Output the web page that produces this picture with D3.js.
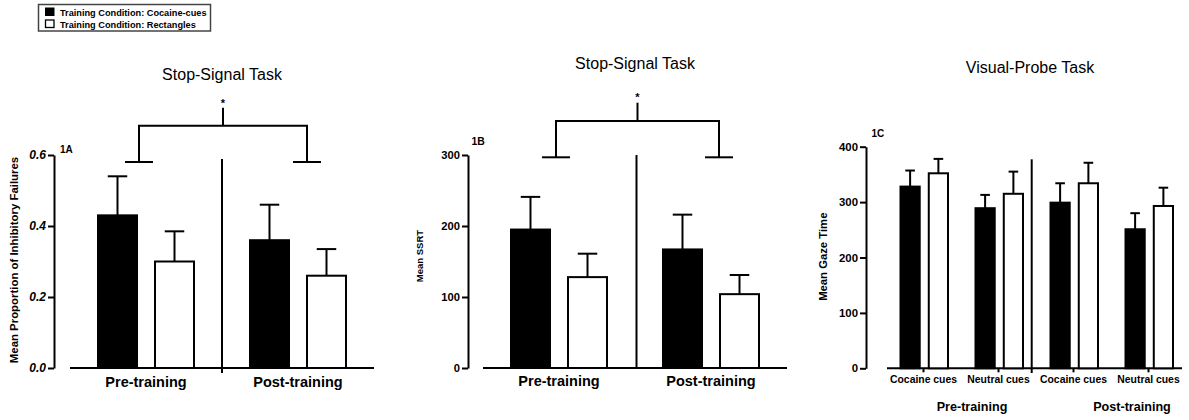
<!DOCTYPE html>
<html><head><meta charset="utf-8">
<script src="https://cdn.jsdelivr.net/npm/d3@7"></script>
<style>
body{margin:0;background:#fff}
svg{display:block}
text{font-family:Arial,"Liberation Sans",sans-serif;fill:#000}
</style>
</head><body>
<svg id="c" width="1189" height="420"></svg>
<script>
// ---------- data ----------
const seriesNames = ["Training Condition: Cocaine-cues", "Training Condition: Rectangles"];
const phases = ["Pre-training", "Post-training"];

// Panel 1A: proportion of inhibitory failures
const failCocaine = [0.43, 0.36];
const failCocaineSem = [0.11, 0.10];
const failRect = [0.30, 0.26];
const failRectSem = [0.085, 0.075];
const failTicks = [0.0, 0.2, 0.4, 0.6];

// Panel 1B: SSRT
const ssrtCocaine = [195, 167];
const ssrtCocaineSem = [46, 49];
const ssrtRect = [128, 104];
const ssrtRectSem = [33, 27];
const ssrtTicks = [0, 100, 200, 300];

// Panel 1C: gaze time
const cueKeys = ["pre-coc", "pre-neu", "post-coc", "post-neu"];
const cueLabels = ["Cocaine cues", "Neutral cues", "Cocaine cues", "Neutral cues"];
const gazeCocaine = [328, 289, 299, 251];
const gazeCocaineSem = [29, 24, 35, 29];
const gazeRect = [352, 315, 334, 293];
const gazeRectSem = [26, 40, 37, 33];
const gazeTicks = [0, 100, 200, 300, 400];

const svg = d3.select("#c");
const LW = 2;

function line(g, x1, y1, x2, y2, w) {
  g.append("line").attr("x1", x1).attr("y1", y1).attr("x2", x2).attr("y2", y2)
    .attr("stroke", "#000").attr("stroke-width", w || LW);
}

function yAxis(g, x, y, ticks, fmt, font, italic) {
  const ax = g.append("g").attr("transform", `translate(${x},0)`)
    .call(d3.axisLeft(y).tickValues(ticks).tickFormat(fmt).tickSize(6).tickSizeOuter(0).tickPadding(2));
  ax.select(".domain").attr("stroke", "#000").attr("stroke-width", LW);
  ax.selectAll(".tick line").attr("stroke", "#000").attr("stroke-width", LW);
  ax.selectAll(".tick text").attr("font-size", font).attr("font-weight", "bold")
    .attr("font-style", italic ? "italic" : "normal").attr("fill", "#000")
    .attr("font-family", 'Arial,"Liberation Sans",sans-serif');
}

function bars(g, xPos, width, y, vals, sems, fill) {
  vals.forEach((v, i) => {
    const x0 = xPos(i);
    g.append("rect").attr("x", x0).attr("y", y(v)).attr("width", width)
      .attr("height", y(0) - y(v)).attr("fill", fill).attr("stroke", "#000").attr("stroke-width", LW);
    const cx = x0 + width / 2;
    line(g, cx, y(v), cx, y(v + sems[i]));
    line(g, cx - width / 4, y(v + sems[i]), cx + width / 4, y(v + sems[i]));
  });
}

function text(g, x, y, s, size, opts) {
  opts = opts || {};
  const t = g.append("text").attr("x", x).attr("y", y).text(s)
    .attr("font-size", size).attr("text-anchor", opts.anchor || "middle")
    .attr("font-weight", opts.bold ? "bold" : "normal");
  if (opts.rotate) t.attr("transform", `rotate(-90,${x},${y})`);
  return t;
}

function bracket(g, xl, xr, yFoot, yTop, yStem, footHalf, starY) {
  const xm = (xl + xr) / 2;
  line(g, xl - footHalf, yFoot, xl + footHalf, yFoot);
  line(g, xr - footHalf, yFoot, xr + footHalf, yFoot);
  line(g, xl, yFoot, xl, yTop);
  line(g, xr, yFoot, xr, yTop);
  line(g, xl - 1, yTop, xr + 1, yTop);
  line(g, xm, yTop, xm, yStem);
  text(g, xm, starY, "*", 11, {bold: true});
}

// ---------- legend ----------
const lg = svg.append("g");
lg.append("rect").attr("x", 38.5).attr("y", 4.5).attr("width", 172).attr("height", 26.5)
  .attr("fill", "#fff").attr("stroke", "#444").attr("stroke-width", 1.5);
lg.append("rect").attr("x", 45).attr("y", 7.5).attr("width", 9.5).attr("height", 8.5).attr("fill", "#000");
lg.append("rect").attr("x", 45.5).attr("y", 20).attr("width", 8.5).attr("height", 7.5)
  .attr("fill", "#fff").attr("stroke", "#000").attr("stroke-width", 1.3);
text(lg, 60, 16, seriesNames[0], 9.2, {bold: true, anchor: "start"});
text(lg, 60, 27.5, seriesNames[1], 9.2, {bold: true, anchor: "start"});

// ---------- Panel 1A ----------
(function () {
  const g = svg.append("g");
  const y = d3.scaleLinear().domain([0, 0.6]).range([368, 155]);
  const x = d3.scaleBand().domain(phases).range([70, 374]);
  const inner = d3.scaleBand().domain(["c", "r"]).range([28, 124]).paddingInner(0.316);
  yAxis(g, 54, y, failTicks, d3.format(".1f"), 12, true);
  line(g, 70, y(0), 374, y(0));
  line(g, x(phases[1]), 159, x(phases[1]), 373);
  bars(g, i => x(phases[i]) + inner("c"), inner.bandwidth(), y, failCocaine, failCocaineSem, "#000");
  bars(g, i => x(phases[i]) + inner("r"), inner.bandwidth(), y, failRect, failRectSem, "#fff");
  phases.forEach(p => text(g, x(p) + x.bandwidth() / 2, 387, p, 14.5, {bold: true}));
  text(g, 222, 80, "Stop-Signal Task", 16);
  text(g, 60, 152.5, "1A", 10, {bold: true, anchor: "start"});
  text(g, 14, 260, "Mean Proportion of Inhibitory Failures", 11.4, {bold: true, rotate: true}).attr("dy", "0.35em");
  bracket(g, 139, 307, 162, 125.7, 107.7, 14, 107);
})();

// ---------- Panel 1B ----------
(function () {
  const g = svg.append("g");
  const y = d3.scaleLinear().domain([0, 300]).range([368, 155]);
  const x = d3.scaleBand().domain(phases).range([483, 787]);
  const inner = d3.scaleBand().domain(["c", "r"]).range([28, 124]).paddingInner(0.316);
  yAxis(g, 468, y, ssrtTicks, d3.format("d"), 11.2, false);
  line(g, 483, y(0), 787, y(0));
  line(g, 636.5, 155, 636.5, 368);
  bars(g, i => x(phases[i]) + inner("c"), inner.bandwidth(), y, ssrtCocaine, ssrtCocaineSem, "#000");
  bars(g, i => x(phases[i]) + inner("r"), inner.bandwidth(), y, ssrtRect, ssrtRectSem, "#fff");
  phases.forEach(p => text(g, x(p) + x.bandwidth() / 2, 386, p, 14.5, {bold: true}));
  text(g, 635, 68.5, "Stop-Signal Task", 16);
  text(g, 471.5, 145, "1B", 10.4, {bold: true, anchor: "start"});
  text(g, 420, 256, "Mean SSRT", 9.5, {bold: true, rotate: true}).attr("dy", "0.35em");
  bracket(g, 556, 719, 157.3, 121, 102.7, 14, 101);
})();

// ---------- Panel 1C ----------
(function () {
  const g = svg.append("g");
  const y = d3.scaleLinear().domain([0, 400]).range([368.3, 146.7]);
  const x = d3.scaleBand().domain(cueKeys).range([886, 1186]);
  const inner = d3.scaleBand().domain(["c", "r"]).range([14.5, 62]).paddingInner(0.32);
  yAxis(g, 866, y, gazeTicks, d3.format("d"), 11.4, false);
  const ax = g.append("g").attr("transform", `translate(0,${y(0)})`)
    .call(d3.axisBottom(x).tickSize(4).tickSizeOuter(0).tickPadding(3).tickFormat((d, i) => cueLabels[i]));
  ax.select(".domain").remove();
  ax.selectAll(".tick line").attr("stroke", "#000").attr("stroke-width", LW);
  ax.selectAll(".tick text").attr("font-size", 10.4).attr("font-weight", "bold").attr("fill", "#000")
    .attr("font-family", 'Arial,"Liberation Sans",sans-serif');
  line(g, 887, y(0), 1182, y(0));
  line(g, 1031.7, 159.3, 1031.7, 373);
  bars(g, i => x(cueKeys[i]) + inner("c"), inner.bandwidth(), y, gazeCocaine, gazeCocaineSem, "#000");
  bars(g, i => x(cueKeys[i]) + inner("r"), inner.bandwidth(), y, gazeRect, gazeRectSem, "#fff");
  text(g, 972, 411, phases[0], 12.6, {bold: true});
  text(g, 1132, 411, phases[1], 12.6, {bold: true});
  text(g, 1030, 72.5, "Visual-Probe Task", 16);
  text(g, 871.5, 137, "1C", 10, {bold: true, anchor: "start"});
  text(g, 822.7, 256.7, "Mean Gaze Time", 11.3, {bold: true, rotate: true}).attr("dy", "0.35em");
})();
</script>
</body></html>
